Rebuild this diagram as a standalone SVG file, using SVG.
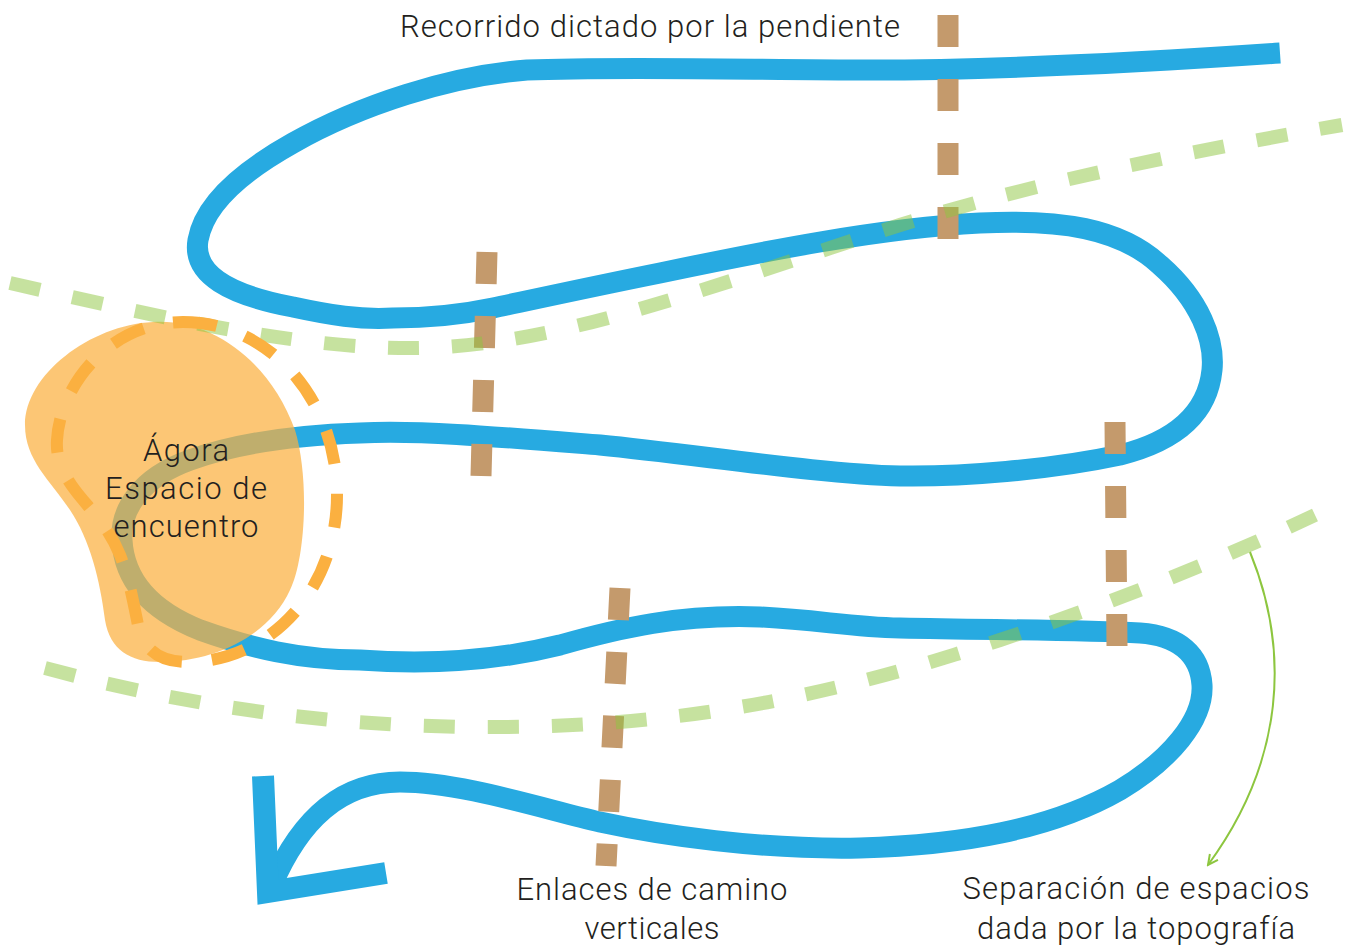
<svg xmlns="http://www.w3.org/2000/svg" width="1347" height="947" viewBox="0 0 1347 947">
<style>
.lbl{font-family:Roboto,"Liberation Sans",sans-serif;font-weight:300;font-size:31px;fill:#231f20;text-anchor:middle}
.blue{fill:none;stroke:#27aae1;stroke-width:21}
.brown{fill:none;stroke:#c49a6c;stroke-width:21;stroke-dasharray:32 32}
.green{fill:none;stroke:#8dc63f;stroke-opacity:0.5;stroke-width:14;stroke-dasharray:31 33}
</style>
<defs>
<marker id="garrow" viewBox="-12 -7 14 14" markerWidth="14" markerHeight="14" refX="0" refY="0" orient="auto" markerUnits="userSpaceOnUse">
<path d="M-10,-5 L0,0 L-10,5" fill="none" stroke="#8dc63f" stroke-width="2"/>
</marker>
</defs>
<g id="connectors">
<path id="recorrido" class="blue" d="M1280,53 C1150,62 1000,70 870,70 C760,70 620,66 527,70 C450,76 360,105 293,143 C250,167 205,200 198,240 C192,275 230,295 293,307 C330,315 360,320 393,318 C430,318 460,315 493,308 C540,298 600,285 660,273 C760,252 880,228 980,223 C1060,219 1120,228 1160,265 C1200,300 1215,340 1212,370 C1208,410 1180,440 1120,455 C1050,470 960,477 900,476 C820,474 700,455 600,445 C500,437 420,430 360,433 C300,435 240,442 190,460 C140,478 120,510 122,540 C124,580 150,610 200,630 C250,648 300,660 360,660 C430,665 500,660 560,645 C620,628 680,614 760,617 C820,620 850,627 900,628 C1000,630 1080,630 1140,633 C1180,636 1200,655 1202,685 C1204,720 1170,760 1120,790 C1050,830 960,845 860,848 C760,850 660,835 600,822 C540,808 460,782 400,782 C340,782 300,820 272,885"/>
<polyline id="arrowhead" points="263,776 268,892 386,873" fill="none" stroke="#27aae1" stroke-width="22" stroke-linejoin="miter"/>
<g id="enlaces">
<line class="brown" x1="948" y1="15" x2="948" y2="240"/>
<line class="brown" x1="487" y1="252" x2="481" y2="476"/>
<line class="brown" x1="620" y1="588" x2="606" y2="866"/>
<line class="brown" x1="1115" y1="422" x2="1117" y2="646"/>
</g>
</g>
<g id="agora">
<path d="M153,322 C210,318 270,360 295,430 C310,480 305,560 290,590 C270,635 215,662 160,662 C130,662 110,650 105,620 C100,580 90,540 70,510 C50,480 25,460 25,425 C25,375 90,325 153,322 Z" fill="#fbb040" fill-opacity="0.72"/>
</g>
<g id="separaciones">
<path class="green" d="M10,283 C150,315 300,350 420,348 C560,345 700,290 900,225 C1050,178 1200,150 1342,125"/>
<path class="green" d="M45,668 C200,710 350,728 500,727 C700,726 850,690 1000,640 C1120,600 1220,560 1315,515"/>
</g>
<g id="agora-limite">
<path d="M183,322 C270,322 337,400 337,495 C337,590 270,662 187,662 C155,662 142,645 138,625 C132,595 128,575 120,555 C108,525 90,510 75,490 C60,470 56,455 57,440 C60,385 110,322 183,322 Z" fill="none" stroke="#fbb040" stroke-width="12" stroke-dasharray="34 30"/>
</g>
<g id="flecha-topografia">
<path d="M1250,552 C1290,650 1285,760 1208,865" fill="none" stroke="#8dc63f" stroke-width="2" marker-end="url(#garrow)"/>
</g>
<g id="label-agora">
<text class="lbl" x="186" y="461" textLength="86">Ágora</text>
<text class="lbl" x="186" y="499" textLength="162">Espacio de</text>
<text class="lbl" x="186" y="537" textLength="145">encuentro</text>
</g>
<g id="label-recorrido">
<text class="lbl" x="650" y="37" textLength="500">Recorrido dictado por la pendiente</text>
</g>
<g id="label-enlaces">
<text class="lbl" x="652" y="900" textLength="271">Enlaces de camino</text>
<text class="lbl" x="652" y="939" textLength="135">verticales</text>
</g>
<g id="label-separacion">
<text class="lbl" x="1136" y="899" textLength="347">Separación de espacios</text>
<text class="lbl" x="1136" y="939" textLength="318">dada por la topografía</text>
</g>
</svg>
